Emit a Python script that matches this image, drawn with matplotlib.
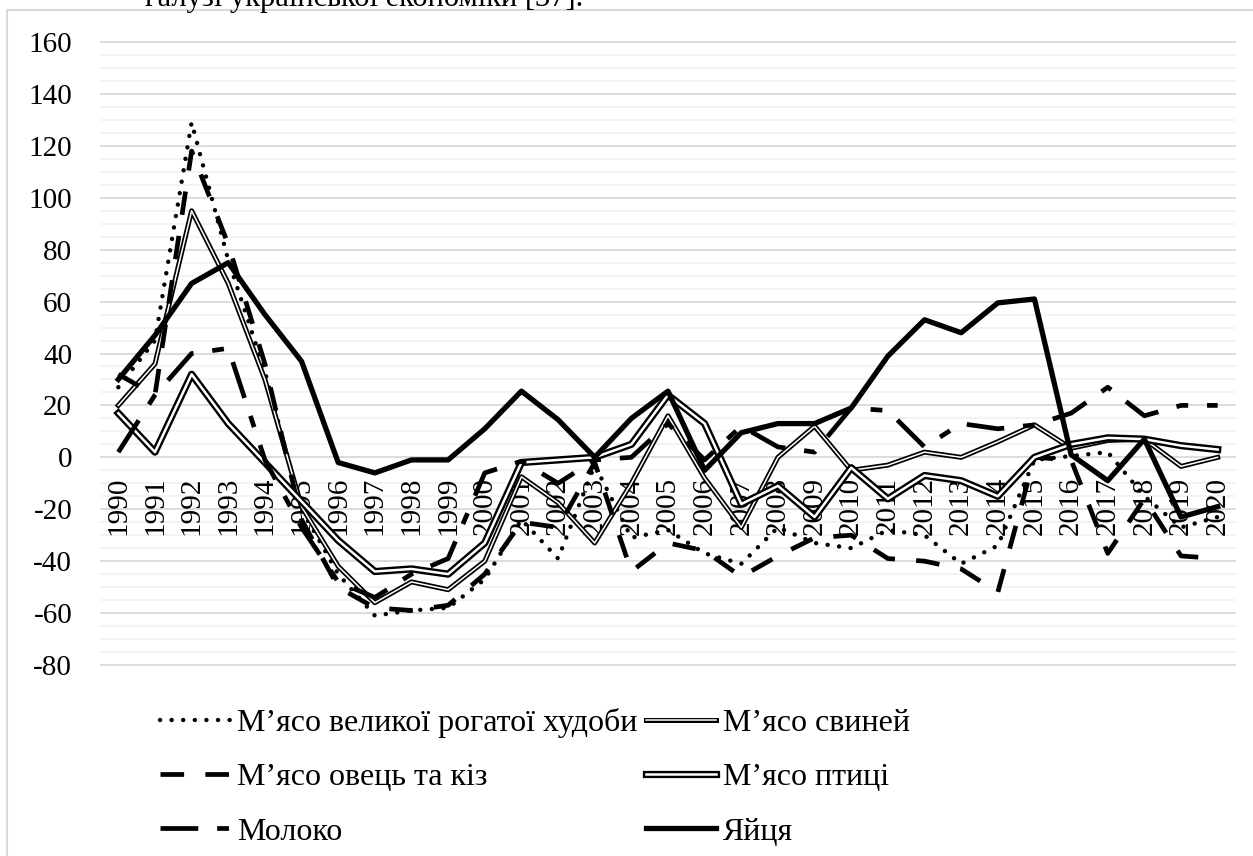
import matplotlib
matplotlib.use("Agg")
import matplotlib.pyplot as plt
import matplotlib.patheffects as pe
from matplotlib.patches import Rectangle

plt.rcParams['font.family'] = ['Liberation Serif', 'DejaVu Serif']

# --- data ---
years = [str(y) for y in range(1990, 2021)]

beef = [27, 45, 129, 76, 33, -20, -45, -61, -59, -58, -47, -24, -39, -3, -31, -28,
        -37, -41, -27, -33, -35, -28, -30, -41, -34, -1, 0.5, 2, -15, -27, -23]
pork = [20, 36, 95, 67, 30, -19, -42, -56, -48, -51, -40, -7.5, -17.5, -33, -10, 16,
        -8, -27, 0, 12, -5, -3, 2, 0, 6, 12.5, 3.5, 6.5, 7, -3.5, 0]
sheep = [32, 24, 118, 82, 36, -24, -50, -58, -59, -57, -45, -25, -27, -2, -44, -33,
         -36, -46, -38, -31, -30, -39, -40, -43, -52, 0, -1, -37, -16, -38, -39]
poultry = [17, 2, 32, 13, -2, -17, -32, -44, -43, -45, -33, -2, -1, 0, 5, 24,
           13, -18, -11, -23, -4, -16, -7, -9, -15, 0, 5, 7.5, 7, 4.5, 3]
milk = [2, 24, 40, 42, -1, -27, -48, -54, -45, -39, -6, -1.5, -10, -1, 0, 13,
        -1, 12, 4, 2, 19, 18, 4, 13, 11, 12.5, 17, 27, 16, 20, 20]
eggs = [30, 47, 67, 75, 55, 37, -2, -6, -1, -1, 11, 25.5, 14.5, 0, 15, 25.5,
        -5, 9.5, 13, 13, 19, 39, 53, 48, 59.5, 61, 1, -9, 7, -23, -19]

labels = ["М’ясо великої рогатої худоби", "М’ясо свиней", "М’ясо овець та кіз",
          "М’ясо птиці", "Молоко", "Яйця"]

W, H = 1253, 856
fig = plt.figure(figsize=(W / 100, H / 100), dpi=100)
ax = fig.add_axes([100 / W, 1 - 666 / H, 1136 / W, 625 / H])
x = list(range(len(years)))

# series, drawn in the Excel order
h_beef, = ax.plot(x, beef, color="black", lw=3.2, linestyle=(0, (0.01, 2.6)),
                  dash_capstyle="round", label=labels[0])
h_pork, = ax.plot(x, pork, color="white", lw=1.1, label=labels[1],
                  path_effects=[pe.Stroke(linewidth=3.6, foreground="black"), pe.Normal()])
h_sheep, = ax.plot(x, sheep, color="black", lw=3.4, linestyle=(0, (5, 4.5)),
                   label=labels[2])
h_poultry, = ax.plot(x, poultry, color="white", lw=1.8, label=labels[3],
                     path_effects=[pe.Stroke(linewidth=5.2, foreground="black"), pe.Normal()])
h_milk, = ax.plot(x, milk, color="black", lw=3.4, linestyle=(0, (8, 4, 2.5, 4)),
                  label=labels[4])
h_eggs, = ax.plot(x, eggs, color="black", lw=3.8, label=labels[5])

ax.set_xlim(-0.5, len(years) - 0.5)
ax.set_ylim(-80.4, 160.4)
ax.set_yticks(range(-80, 161, 20))
ax.set_yticks(range(-80, 161, 5), minor=True)
ax.set_yticklabels([str(v) for v in range(-80, 161, 20)], fontsize=21)
ax.set_xticks([])
ax.tick_params(axis="y", which="both", length=0, pad=20)
ax.grid(which="major", axis="y", color="#d9d9d9", lw=1.3)
ax.grid(which="minor", axis="y", color="#f2f2f2", lw=1.3)
ax.set_axisbelow(True)
for s in ax.spines.values():
    s.set_visible(False)

# year labels sit next to the zero line
for i, yr in enumerate(years):
    ax.annotate(yr, xy=(i, 0), xytext=(0, -14), textcoords="offset points",
                rotation=90, ha="center", va="top", fontsize=21, zorder=1,
                annotation_clip=False)

fig.legend(handles=[h_beef, h_sheep, h_milk, h_pork, h_poultry, h_eggs],
           ncol=2, loc="upper left", bbox_to_anchor=(160 / W, 1 - 708 / H),
           frameon=False, fontsize=23, handlelength=2.2, handletextpad=0.22,
           columnspacing=0.25, labelspacing=0.78, borderpad=0, borderaxespad=0)

# chart border and the cut-off document line above it
fig.patches.append(Rectangle((7 / W, -0.1), 1.2, 1 - 10 / H + 0.1, transform=fig.transFigure,
                             fill=False, edgecolor="#d9d9d9", lw=1.5))
fig.text(583 / W, 1 - 6 / H, "галузі української економіки [37].", ha="right",
         va="baseline", fontsize=22)

fig.savefig("out.png", dpi=100)
